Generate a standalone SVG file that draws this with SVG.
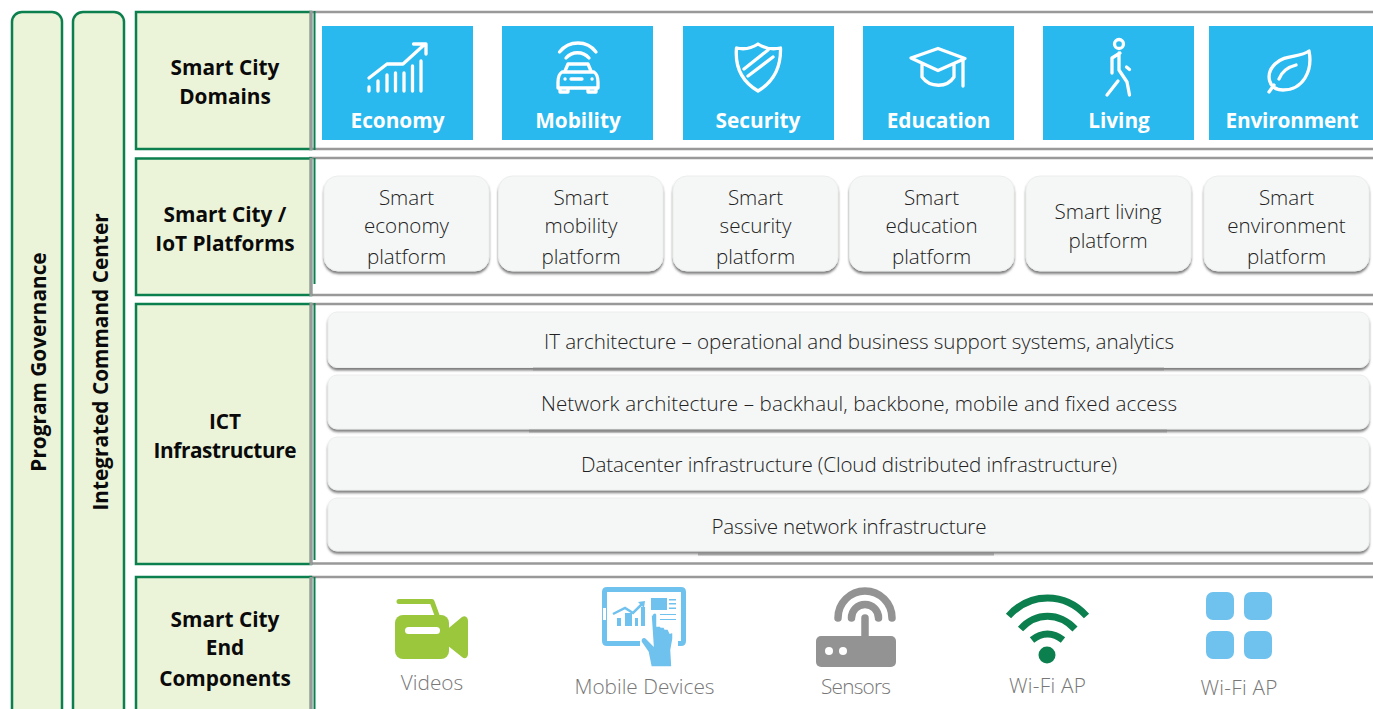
<svg xmlns="http://www.w3.org/2000/svg" width="1373" height="709" viewBox="0 0 1373 709">
<defs>
<style>
.lab{fill:#ebf3d9;stroke:#0b7f4e;stroke-width:2.500}
.h{font-family:"Open Sans","Noto Sans",sans-serif;font-weight:700;font-size:20.800px;fill:#0a0a0a;text-anchor:middle}
.g{stroke:#999;stroke-width:2.500;fill:none}
.gv{stroke:#999;stroke-width:3;fill:none}
.gr{stroke:#0b7f4e;stroke-width:2;fill:none}
.tile{fill:#29b9ee}
.tt{font-family:"Open Sans","Noto Sans",sans-serif;font-weight:700;font-size:20.800px;fill:#fff;text-anchor:middle}
.ic{fill:none;stroke:#fff;stroke-width:3.300;stroke-linecap:round;stroke-linejoin:round}
.card{fill:#f5f7f6;stroke:#eceeed;stroke-width:1;filter:url(#sh)}
.t{font-family:"Open Sans","Noto Sans",sans-serif;font-weight:300;font-size:20.600px;fill:#222;text-anchor:middle}
.c{font-family:"Open Sans","Noto Sans",sans-serif;font-weight:300;font-size:20.800px;fill:#777;text-anchor:middle}
.seg{stroke:#888;stroke-width:3;fill:none;opacity:.65}
</style>
<filter id="sh" x="-5%" y="-10%" width="110%" height="125%">
<feDropShadow dx="0" dy="2.500" stdDeviation="1.300" flood-color="#555" flood-opacity=".75"/>
</filter>
</defs>
<rect width="1373" height="709" fill="#fff"/>

<g id="program-governance"><rect class="lab" x="12" y="12" width="50" height="720" rx="10"/>
<text class="h" transform="translate(46,362) rotate(-90)">Program Governance</text></g>
<g id="command-center"><rect class="lab" x="73" y="12" width="51" height="720" rx="10"/>
<text class="h" transform="translate(108,362) rotate(-90)">Integrated Command Center</text></g>

<g id="rows">
<path class="g" d="M309 12H1373M309 149H1373M309 158H1373M309 295H1373M309 304H1373M309 577H1373"/>
<path class="g" stroke-width="3.500" d="M309 563.500H1373"/>
</g>

<g id="row-domains"><rect class="lab" x="136" y="12" width="175" height="137"/>
<path class="gv" d="M311 11V150"/><path class="gr" d="M314.500 11V150"/>
<text class="h" x="225" y="75">Smart City</text><text class="h" x="225" y="104">Domains</text></g>
<g id="row-platforms"><rect class="lab" x="136" y="158.500" width="175" height="136.500"/>
<path class="gv" d="M311 158V296"/><path class="gr" d="M314.500 158V284"/>
<text class="h" x="225" y="222">Smart City /</text><text class="h" x="225" y="251">IoT Platforms</text></g>
<g id="row-ict"><rect class="lab" x="136" y="304" width="175" height="260"/>
<path class="gv" d="M311 303V565"/><path class="gr" d="M314.500 303V560"/>
<text class="h" x="225" y="429">ICT</text><text class="h" x="225" y="458" textLength="143">Infrastructure</text></g>
<g id="row-end"><rect class="lab" x="136" y="577" width="175" height="150"/>
<path class="gv" d="M311 577V709"/><path class="gr" d="M314.500 577V709"/>
<text class="h" x="225" y="627">Smart City</text><text class="h" x="225" y="655">End</text><text class="h" x="225" y="686">Components</text></g>

<g id="domain-economy"><rect class="tile" x="322" y="26" width="151" height="114"/>
<path class="ic" d="M369 78L387 64H403L425 44M413.500 44H426V54"/>
<path class="ic" d="M369 87V91M378 81V91M387 75V91M395.500 73V91M404 73V91M412.500 66V91M421 61V91"/>
<text class="tt" x="397.500" y="128">Economy</text></g>
<g id="domain-mobility"><rect class="tile" x="502" y="26" width="151" height="114"/>
<path class="ic" d="M559.500 52C569 40 587 40 596 52M566 58C572 51 583 51 589 58M565 71L568 64H588L591 71M562 72H594C597 74 598 78 598 82V88H558V82C558 78 559 74 562 72ZM560 88V92H568V88M588 88V92H596V88M571 79H582"/>
<path class="ic" d="M565 79h.1M592 79h.1"/>
<text class="tt" x="578" y="128">Mobility</text></g>
<g id="domain-security"><rect class="tile" x="683" y="26" width="151" height="114"/>
<path class="ic" d="M736.500 48C745 50 752 48 758 44C764 48 771 50 780.500 48C781 65 775 81 758 91C741 81 735 65 736.500 48Z"/>
<path class="ic" d="M744 69L768 50M748 76L773 57"/>
<text class="tt" x="758" y="128">Security</text></g>
<g id="domain-education"><rect class="tile" x="863" y="26" width="151" height="114"/>
<path class="ic" d="M911 58L938 48.500L965 58.500L938 70.500ZM922 63.500V77C930 88 947 88 954 77V63.500M963 59V86"/>
<text class="tt" x="938.500" y="128">Education</text></g>
<g id="domain-living"><rect class="tile" x="1043" y="26" width="151" height="114"/>
<circle class="ic" cx="1119" cy="44" r="4.500"/>
<path class="ic" d="M1120 53L1112 58V73M1119 53V70L1127 82L1129.500 95M1118 81L1107 95M1126.500 67L1129.500 69.500"/>
<text class="tt" x="1119" y="128">Living</text></g>
<g id="domain-environment"><rect class="tile" x="1209" y="26" width="164" height="114"/>
<path class="ic" d="M1309 51C1299 58 1285 54 1275 64C1265 74 1268 90 1283 90C1303 90 1313 71 1309 51ZM1269 92L1274 85M1279 79C1282 71 1288 67 1296 65"/>
<text class="tt" x="1292" y="128" textLength="133">Environment</text></g>

<g id="platform-economy"><rect class="card" x="324" y="176" width="165" height="95" rx="14"/>
<text class="t" x="406.500" y="205">Smart</text><text class="t" x="406.500" y="233">economy</text><text class="t" x="406.500" y="264">platform</text></g>
<g id="platform-mobility"><rect class="card" x="498.500" y="176" width="164.500" height="95" rx="14"/>
<text class="t" x="581" y="205">Smart</text><text class="t" x="581" y="233">mobility</text><text class="t" x="581" y="264">platform</text></g>
<g id="platform-security"><rect class="card" x="673" y="176" width="165" height="95" rx="14"/>
<text class="t" x="755.500" y="205">Smart</text><text class="t" x="755.500" y="233">security</text><text class="t" x="755.500" y="264">platform</text></g>
<g id="platform-education"><rect class="card" x="849.500" y="176" width="164.500" height="95" rx="14"/>
<text class="t" x="931.500" y="205">Smart</text><text class="t" x="931.500" y="233">education</text><text class="t" x="931.500" y="264">platform</text></g>
<g id="platform-living"><rect class="card" x="1026" y="176" width="165" height="95" rx="14"/>
<text class="t" x="1108" y="219">Smart living</text><text class="t" x="1108" y="248">platform</text></g>
<g id="platform-environment"><rect class="card" x="1204" y="176" width="165" height="95" rx="14"/>
<text class="t" x="1286.500" y="205">Smart</text><text class="t" x="1286.500" y="233">environment</text><text class="t" x="1286.500" y="264">platform</text></g>

<g id="ict-it"><rect class="card" x="328" y="312" width="1041" height="55.500" rx="9"/>
<path class="seg" d="M533 369H1164"/>
<text class="t" x="859" y="349" textLength="630">IT architecture – operational and business support systems, analytics</text></g>
<g id="ict-network"><rect class="card" x="328" y="375" width="1041" height="54" rx="9"/>
<path class="seg" d="M529 431H1167"/>
<text class="t" x="859" y="411" textLength="636">Network architecture – backhaul, backbone, mobile and fixed access</text></g>
<g id="ict-datacenter"><rect class="card" x="328" y="437" width="1041" height="53" rx="9"/>
<text class="t" x="849" y="472" textLength="536">Datacenter infrastructure (Cloud distributed infrastructure)</text></g>
<g id="ict-passive"><rect class="card" x="328" y="498" width="1041" height="53" rx="9"/>
<path class="seg" d="M698 554H994"/>
<text class="t" x="849" y="534" textLength="275">Passive network infrastructure</text></g>

<g id="end-videos">
<path fill="none" stroke="#9ac73c" stroke-width="5" stroke-linecap="round" stroke-linejoin="round" d="M399 601.500H432L438 618"/>
<rect x="395" y="615" width="54" height="44" rx="8" fill="#9ac73c"/>
<path fill="#9ac73c" d="M447 629.500L462 617C466 615 468 618 468 621V654C468 657 465 660 462 657L447 645Z"/>
<rect x="405" y="627" width="35" height="7" rx="3.500" fill="#fff"/>
<text class="c" x="432" y="690">Videos</text></g>
<g id="end-mobile">
<path fill="none" stroke="#6fc1ee" stroke-width="5" d="M640 643.500H607C605.500 643.500 604.500 642.500 604.500 641V592C604.500 590.500 605.500 589.500 607 589.500H681C682.500 589.500 683.500 590.500 683.500 592V641C683.500 642.500 682.500 643.500 681 643.500H678"/>
<rect x="603" y="608" width="3" height="12" fill="#fff"/>
<path fill="none" stroke="#6fc1ee" stroke-width="2.500" d="M613 614L625 608L633 613L642 604"/>
<path fill="#6fc1ee" d="M651 598H667V610H651ZM669 599H676V600.500H669ZM669 603H676V604.500H669ZM669 607.500H676V609H669ZM660 614H676V615H660ZM660 619H676V620H660ZM638 602L645 601L644 608ZM617 618H621V626H617ZM625 613H632V626H625ZM635 618H638V626H635ZM641 607H645V626H641Z"/>
<path fill="#6fc1ee" stroke="#fff" stroke-width="1.500" d="M652 615C653 612 657 612 657 615V626L660 626L661 627L664 627L665 629L668 629L670 633L673 632L673 639L671 650L672 667H651L648 652L641 642C640 638 644 636 646 638L653 645L651 615Z"/>
<text class="c" x="644.500" y="694">Mobile Devices</text></g>
<g id="end-sensors">
<path fill="none" stroke="#939393" stroke-width="7.500" stroke-linecap="round" d="M838 618A27 27 0 0 1 892 618M851.500 618A13.500 13.500 0 0 1 878.500 618"/>
<path stroke="#939393" stroke-width="7.500" stroke-linecap="round" fill="none" d="M865 618V640"/>
<rect x="816" y="636" width="80" height="31" rx="5" fill="#939393"/>
<circle cx="829" cy="651" r="4" fill="#fff"/><circle cx="843" cy="651" r="4" fill="#fff"/>
<text class="c" x="856" y="694" textLength="70">Sensors</text></g>
<g id="end-wifi">
<path fill="none" stroke="#0b7f4e" stroke-width="7" d="M1008.500 616C1030 592 1065 592 1086.500 616M1020.500 629C1036 612 1059 612 1075 629M1032 640C1042 632 1053 632 1063 640"/>
<circle cx="1047" cy="655" r="8.500" fill="#0b7f4e"/>
<text class="c" x="1047.500" y="693" textLength="77">Wi-Fi AP</text></g>
<g id="end-apps" fill="#6fc1ee">
<rect x="1206" y="592" width="28" height="28" rx="7"/><rect x="1244" y="592" width="28" height="28" rx="7"/>
<rect x="1206" y="631" width="28" height="28" rx="7"/><rect x="1244" y="631" width="28" height="28" rx="7"/>
<text class="c" x="1239" y="695" textLength="77">Wi-Fi AP</text></g>
</svg>
